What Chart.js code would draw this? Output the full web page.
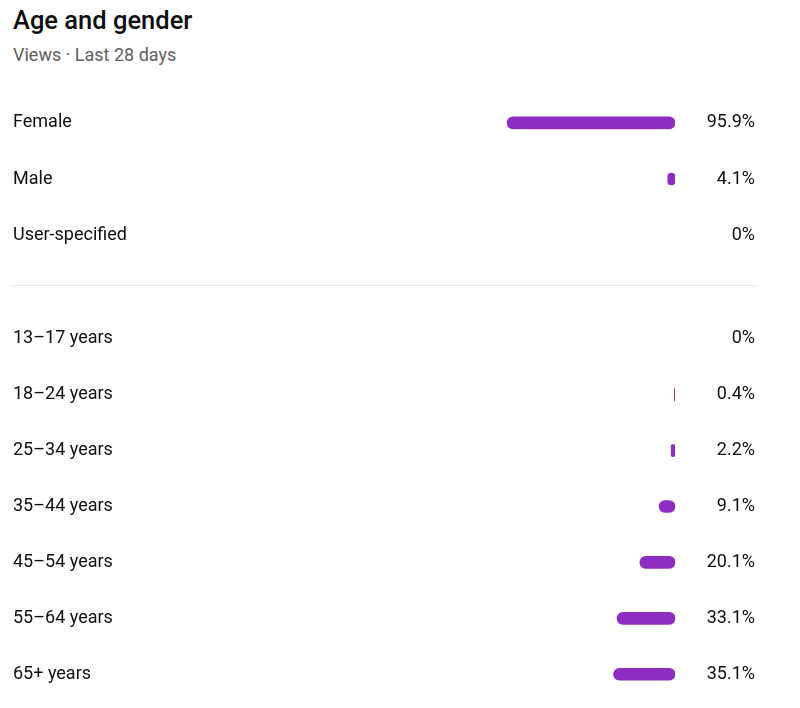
<!DOCTYPE html>
<html>
<head>
<meta charset="utf-8">
<script src="https://cdn.jsdelivr.net/npm/chart.js@4/dist/chart.umd.min.js"></script>
<style>
  html, body { margin: 0; background: #fff; overflow: hidden; font-family: Roboto, "Noto Sans", sans-serif; }
  .title { position: absolute; left: 13px; top: 5px; font-size: 25.5px; font-weight: 500; line-height: 30px; color: #0f0f0f; }
  .sub { position: absolute; left: 13px; top: 44px; font-size: 18px; line-height: 22px; color: #606060; }
  .box { position: absolute; left: 0; width: 800px; }
  .rule { position: absolute; left: 13px; top: 285px; width: 742px; height: 1px; background: #e5e5e5; }
</style>
</head>
<body>
<div class="title">Age and gender</div>
<div class="sub">Views · Last 28 days</div>
<div class="box" style="top:84px;height:190px"><canvas id="genderChart"></canvas></div>
<div class="rule"></div>
<div class="box" style="top:300px;height:413px"><canvas id="ageChart"></canvas></div>
<script>
const genderLabels = ["Female", "Male", "User-specified"];
const genderValues = [95.9, 4.1, 0];

const ageLabels = ["13–17 years", "18–24 years", "25–34 years", "35–44 years", "45–54 years", "55–64 years", "65+ years"];
const ageValues = [0, 0.4, 2.2, 9.1, 20.1, 33.1, 35.1];

const purple = "#8e2dc2";
const tickFont = { family: "Roboto", size: 18 };

const fmt = (v) => (v === 0 ? "0%" : v.toFixed(1) + "%");

function makeChart(id, labels, values) {
  const ctx = document.getElementById(id).getContext("2d");
  return new Chart(ctx, {
    type: "bar",
    data: {
      labels: labels,
      datasets: [
        {
          data: values,
          backgroundColor: (c) => (c.raw === 0 ? "rgba(0,0,0,0)" : purple),
          barThickness: 12,
          borderRadius: 6,
          borderSkipped: false,
          yAxisID: "y",
        },
      ],
    },
    options: {
      indexAxis: "y",
      responsive: true,
      maintainAspectRatio: false,
      animation: false,
      layout: { padding: { left: 13, right: 45, top: 0, bottom: 0 } },
      plugins: { legend: { display: false }, tooltip: { enabled: false } },
      scales: {
        x: { display: false, min: 0, max: 100, reverse: true },
        y: {
          position: "left",
          offset: true,
          grid: { display: false },
          border: { display: false },
          ticks: { crossAlign: "far", padding: 0, autoSkip: false, color: "#0f0f0f", font: tickFont },
          afterFit: (s) => { s.width = 487; },
        },
        y2: {
          type: "category",
          position: "right",
          offset: true,
          grid: { display: false },
          border: { display: false },
          ticks: {
            crossAlign: "far",
            padding: 0,
            autoSkip: false,
            color: "#0f0f0f",
            font: tickFont,
            callback: (v, i) => fmt(values[i]),
          },
          afterFit: (s) => { s.width = 80; },
        },
      },
    },
  });
}

makeChart("genderChart", genderLabels, genderValues);
makeChart("ageChart", ageLabels, ageValues);
</script>
</body>
</html>
